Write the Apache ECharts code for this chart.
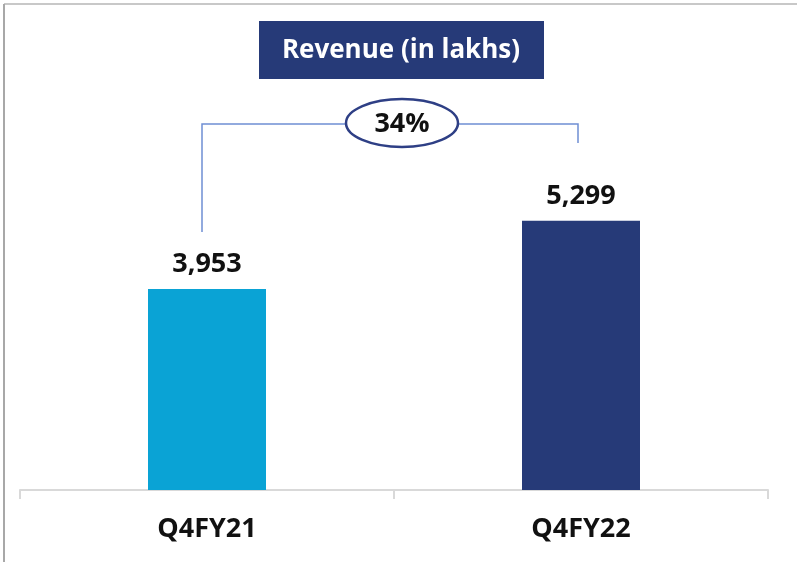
<!DOCTYPE html>
<html>
<head>
<meta charset="utf-8">
<script src="https://cdn.jsdelivr.net/npm/echarts@6/dist/echarts.min.js"></script>
<style>
html, body { margin: 0; padding: 0; background: #fff; }
#chart { width: 797px; height: 562px; }
</style>
</head>
<body>
<div id="chart"></div>
<script>
var categories = ['Q4FY21', 'Q4FY22'];
var revenue = [3953, 5299];
var barColors = ['#0aa3d5', '#263a78'];
var titleText = 'Revenue (in lakhs)';

var myChart = echarts.init(document.getElementById('chart'));
var font = 'Open Sans';
var growth = Math.round((revenue[1] / revenue[0] - 1) * 100) + '%';

var option = {
    animation: false,
    grid: { left: 20, right: 29, top: 185, bottom: 72 },
    xAxis: {
        type: 'category',
        data: categories,
        axisLine: { lineStyle: { color: '#d9d9d9', width: 2 } },
        axisTick: { show: true, alignWithLabel: false, length: 9, lineStyle: { color: '#d9d9d9', width: 2 } },
        axisLabel: {
            margin: 26,
            color: '#111',
            fontSize: 27,
            fontWeight: 'bold',
            fontFamily: font
        }
    },
    yAxis: { type: 'value', min: 0, max: 6000, show: false },
    series: [{
        type: 'bar',
        barWidth: 118,
        data: revenue.map(function (v, i) {
            return { value: v, itemStyle: { color: barColors[i] } };
        }),
        label: {
            show: true,
            position: 'top',
            distance: 11,
            color: '#111',
            fontSize: 27,
            fontWeight: 'bold',
            fontFamily: font,
            formatter: function (p) { return p.value.toLocaleString('en-US'); }
        }
    }]
};
myChart.setOption(option);

// bracket + growth bubble, anchored on the bars
var p1 = myChart.convertToPixel({ seriesIndex: 0 }, [0, revenue[0]]);
var p2 = myChart.convertToPixel({ seriesIndex: 0 }, [1, revenue[1]]);
var lineY = 124, cx = 402, rx = 56, ry = 24;
var bracketStyle = { stroke: '#6f8fd4', lineWidth: 1.5, fill: null };

myChart.setOption({
    graphic: [
        // frame
        { type: 'line', shape: { x1: 4, y1: 4, x2: 797, y2: 4 }, style: { stroke: '#c8c8c8', lineWidth: 2 } },
        { type: 'line', shape: { x1: 4, y1: 4, x2: 4, y2: 562 }, style: { stroke: '#a8a8a8', lineWidth: 2 } },
        // title box
        { type: 'rect', shape: { x: 259, y: 21, width: 285, height: 58 }, style: { fill: '#263a78' } },
        {
            type: 'text', x: 401, y: 51,
            style: {
                text: titleText, fill: '#fff', fontSize: 26, fontWeight: 'bold',
                fontFamily: font, align: 'center', verticalAlign: 'middle'
            }
        },
        {
            type: 'polyline',
            shape: { points: [[p1[0] - 5, p1[1] - 57], [p1[0] - 5, lineY], [cx - rx, lineY]] },
            style: bracketStyle
        },
        {
            type: 'polyline',
            shape: { points: [[cx + rx, lineY], [p2[0] - 3, lineY], [p2[0] - 3, lineY + 19]] },
            style: bracketStyle
        },
        {
            type: 'ellipse', shape: { cx: cx, cy: 123, rx: rx, ry: ry },
            style: { fill: '#fff', stroke: '#2e3f85', lineWidth: 2.5 }
        },
        {
            type: 'text', x: cx, y: 124,
            style: {
                text: growth, fill: '#111', fontSize: 27, fontWeight: 'bold',
                fontFamily: font, align: 'center', verticalAlign: 'middle'
            }
        }
    ]
});
</script>
</body>
</html>
